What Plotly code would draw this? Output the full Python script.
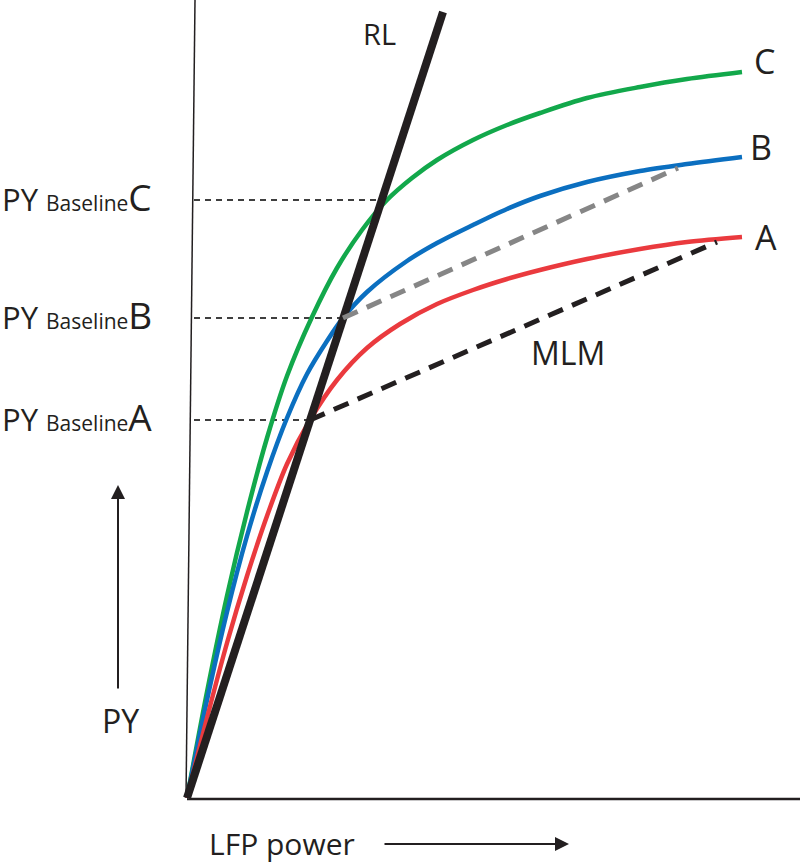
import plotly.graph_objects as go

# Conceptual coordinates: x = LFP power, y = PY (origin at the axis corner)
curve_c_x = [0, 20, 40, 60, 80, 100, 125, 150, 175, 200, 225, 250, 286, 320, 353, 400, 453, 500, 555]
curve_c_y = [0, 106, 202, 286, 360, 422, 481, 530, 568, 598, 620, 638, 658, 673, 685, 700, 711, 719, 726]

curve_b_x = [0, 20, 40, 60, 80, 100, 120, 140, 156, 180, 220, 250, 286, 320, 353, 400, 453, 500, 555]
curve_b_y = [0, 98, 186, 262, 326, 380, 424, 457, 480, 506, 537, 555, 573, 589, 602, 616, 627, 634, 641]

curve_a_x = [0, 20, 40, 60, 80, 100, 123, 150, 180, 213, 250, 286, 320, 353, 400, 453, 500, 555]
curve_a_y = [0, 80, 155, 222, 282, 334, 378, 418, 450, 474, 494, 508, 519, 528, 539, 549, 556, 561]

rl_x = [0, 256]
rl_y = [0, 786]

mlm_x = [123, 530]
mlm_y = [378, 556]

gray_x = [156, 491]
gray_y = [480, 630]

baseline_names = ["A", "B", "C"]
baseline_y = [378, 480, 598]
baseline_x_end = [123, 156, 193]

GREEN = "#12a84b"
BLUE = "#0b6fc0"
RED = "#ea3a3e"
BLACK = "#231f20"
GRAY = "#868686"
FONT = "Open Sans"

fig = go.Figure()

# axes lines
fig.add_trace(go.Scatter(x=[-1, 8], y=[0, 798], mode="lines",
                         line=dict(color=BLACK, width=1.5), hoverinfo="skip"))
fig.add_trace(go.Scatter(x=[0, 613], y=[-1, -1], mode="lines",
                         line=dict(color=BLACK, width=2.5), hoverinfo="skip"))

# baseline dashed guides
for yv, xe in zip(baseline_y, baseline_x_end):
    fig.add_trace(go.Scatter(x=[7, xe], y=[yv, yv], mode="lines",
                             line=dict(color="#000000", width=1.5, dash="6px,5px"),
                             hoverinfo="skip"))

# curves
for xs, ys, col in [(curve_c_x, curve_c_y, GREEN),
                    (curve_b_x, curve_b_y, BLUE),
                    (curve_a_x, curve_a_y, RED)]:
    fig.add_trace(go.Scatter(x=xs, y=ys, mode="lines",
                             line=dict(color=col, width=4.5, shape="spline", smoothing=0.9),
                             hoverinfo="skip"))

# RL line
fig.add_trace(go.Scatter(x=rl_x, y=rl_y, mode="lines",
                         line=dict(color=BLACK, width=8), hoverinfo="skip"))

# dashed lines
fig.add_trace(go.Scatter(x=gray_x, y=gray_y, mode="lines",
                         line=dict(color=GRAY, width=5, dash="16px,10px"), hoverinfo="skip"))
fig.add_trace(go.Scatter(x=mlm_x, y=mlm_y, mode="lines",
                         line=dict(color=BLACK, width=5, dash="16px,10px"), hoverinfo="skip"))

# text labels
for name, yv in zip(baseline_names, baseline_y):
    fig.add_annotation(x=0, y=yv + 4, xref="paper", yref="y", xanchor="left", yanchor="middle",
                       showarrow=False,
                       text=("PY <span style='font-size:21px'>Baseline</span>"
                             f"<span style='font-size:37px'>{name}</span>"),
                       font=dict(family=FONT, size=31, color=BLACK))

for txt, xx, yy in [("C", 577, 737), ("B", 574, 651), ("A", 579, 561)]:
    fig.add_annotation(x=xx, y=yy, xref="x", yref="y", showarrow=False, text=txt,
                       font=dict(family=FONT, size=34, color=BLACK))

fig.add_annotation(x=192, y=765, xref="x", yref="y", showarrow=False, text="RL",
                   font=dict(family=FONT, size=29, color=BLACK))
fig.add_annotation(x=381, y=446, xref="x", yref="y", showarrow=False, text="MLM",
                   font=dict(family=FONT, size=32, color=BLACK))
fig.add_annotation(x=-67, y=78, xref="x", yref="y", showarrow=False, text="PY",
                   font=dict(family=FONT, size=32, color=BLACK))
fig.add_annotation(x=20, y=-45, xref="x", yref="y", xanchor="left", showarrow=False,
                   text="LFP power", font=dict(family=FONT, size=30, color=BLACK))

# arrows
fig.add_annotation(x=-69, y=313, ax=-69, ay=108, xref="x", yref="y", axref="x", ayref="y",
                   text="", showarrow=True, arrowhead=2, arrowsize=1.4, arrowwidth=2,
                   arrowcolor=BLACK)
fig.add_annotation(x=382, y=-46, ax=196, ay=-46, xref="x", yref="y", axref="x", ayref="y",
                   text="", showarrow=True, arrowhead=2, arrowsize=1.4, arrowwidth=2,
                   arrowcolor=BLACK)

fig.update_layout(
    width=800, height=865,
    margin=dict(l=0, r=0, t=0, b=0),
    paper_bgcolor="white", plot_bgcolor="white",
    showlegend=False,
    xaxis=dict(range=[-187, 613], visible=False, fixedrange=True),
    yaxis=dict(range=[-67, 798], visible=False, fixedrange=True),
)

fig.write_html("out.html", config={"displayModeBar": False},
               post_script="document.body.style.margin='0px';")
